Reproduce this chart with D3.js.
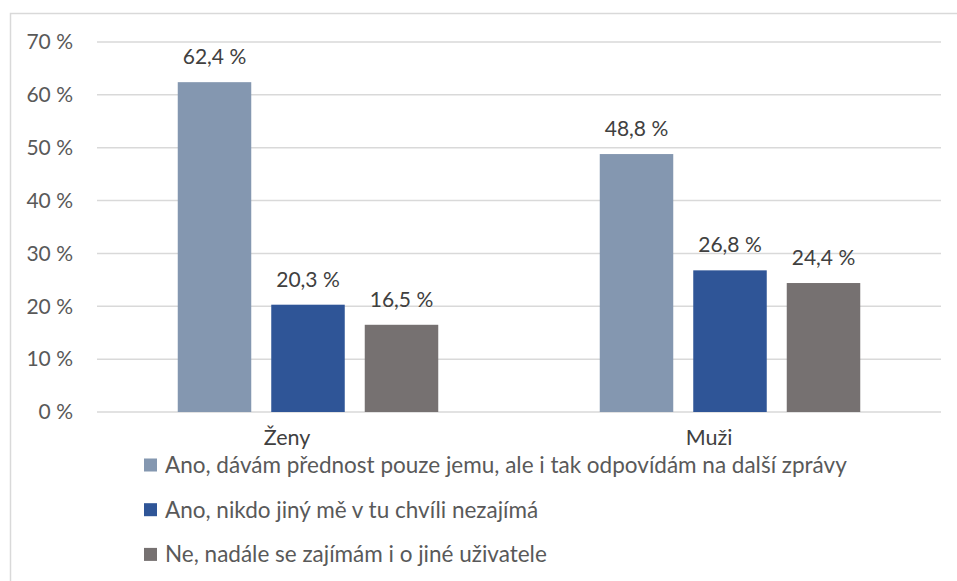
<!DOCTYPE html>
<meta charset="utf-8">
<style>
  body { margin: 0; background: #fff; }
  svg { display: block; font-family: Lato, "Noto Sans", sans-serif; }
  .grid line { stroke: #d9d9d9; stroke-width: 1.5px; }
  .tick-label { fill: #595959; font-size: 21px; }
  .value-label { fill: #404040; font-size: 21px; }
  .cat-label { fill: #404040; font-size: 21.5px; }
  .legend text { fill: #595959; font-size: 22.5px; }
</style>
<body>
<script src="https://cdn.jsdelivr.net/npm/d3@7"></script>
<script>

  // data
  var categories = ["Ženy", "Muži"];
  var series = [
    "Ano, dávám přednost pouze jemu, ale i tak odpovídám na další zprávy",
    "Ano, nikdo jiný mě v tu chvíli nezajímá",
    "Ne, nadále se zajímám i o jiné uživatele"
  ];
  var valuesZeny = [62.4, 20.3, 16.5];
  var valuesMuzi = [48.8, 26.8, 24.4];
  var yTicks = [0, 10, 20, 30, 40, 50, 60, 70];
  var colors = ["#8497b0", "#2f5597", "#767171"];

  var values = [valuesZeny, valuesMuzi];

  var width = 957, height = 581;
  var plot = {left: 97, right: 941, top: 42, bottom: 412};

  var svg = d3.select("body").append("svg")
      .attr("width", width)
      .attr("height", height);

  // outer chart frame (cropped on right/bottom in the original)
  svg.append("rect")
      .attr("x", 10.5).attr("y", 13.5)
      .attr("width", 1000).attr("height", 700)
      .attr("fill", "none")
      .attr("stroke", "#d9d9d9")
      .attr("stroke-width", 1.5);

  var y = d3.scaleLinear().domain([0, 70]).range([plot.bottom, plot.top]);

  var x0 = d3.scaleBand()
      .domain(categories)
      .range([plot.left, plot.right]);

  var groupW = 260.5;
  var x1 = d3.scaleBand()
      .domain(d3.range(series.length))
      .range([(x0.bandwidth() - groupW) / 2, (x0.bandwidth() + groupW) / 2])
      .paddingInner(20 / 93.5);

  // gridlines
  svg.append("g").attr("class", "grid")
    .selectAll("line")
    .data(yTicks)
    .enter().append("line")
      .attr("x1", plot.left).attr("x2", plot.right)
      .attr("y1", function(d) { return y(d); })
      .attr("y2", function(d) { return y(d); });

  // y tick labels
  svg.append("g")
    .selectAll("text")
    .data(yTicks)
    .enter().append("text")
      .attr("class", "tick-label")
      .attr("x", 73)
      .attr("y", function(d) { return y(d); })
      .attr("dy", "0.35em")
      .attr("text-anchor", "end")
      .text(function(d) { return d + " %"; });

  // bars
  var groups = svg.append("g")
    .selectAll("g")
    .data(categories)
    .enter().append("g")
      .attr("transform", function(d) { return "translate(" + x0(d) + ",0)"; });

  groups.selectAll("rect")
    .data(function(d, i) { return values[i].map(function(v, j) { return {v: v, s: j}; }); })
    .enter().append("rect")
      .attr("x", function(d) { return x1(d.s); })
      .attr("width", x1.bandwidth())
      .attr("y", function(d) { return y(d.v); })
      .attr("height", function(d) { return y(0) - y(d.v); })
      .attr("fill", function(d) { return colors[d.s]; });

  groups.selectAll("text.value-label")
    .data(function(d, i) { return values[i].map(function(v, j) { return {v: v, s: j}; }); })
    .enter().append("text")
      .attr("class", "value-label")
      .attr("x", function(d) { return x1(d.s) + x1.bandwidth() / 2; })
      .attr("y", function(d) { return y(d.v) - 18; })
      .attr("text-anchor", "middle")
      .text(function(d) { return d.v.toFixed(1).replace(".", ",") + " %"; });

  // category labels
  svg.append("g")
    .selectAll("text")
    .data(categories)
    .enter().append("text")
      .attr("class", "cat-label")
      .attr("x", function(d) { return x0(d) + x0.bandwidth() / 2 - 21; })
      .attr("y", 445)
      .attr("text-anchor", "middle")
      .text(function(d) { return d; });

  // legend
  var legend = svg.append("g").attr("class", "legend")
    .selectAll("g")
    .data(series)
    .enter().append("g")
      .attr("transform", function(d, i) { return "translate(144," + (465 + i * 44.7) + ")"; });

  legend.append("rect")
      .attr("x", 0).attr("y", -6.5)
      .attr("width", 13).attr("height", 13)
      .attr("fill", function(d, i) { return colors[i]; });

  legend.append("text")
      .attr("x", 21)
      .attr("dy", "0.35em")
      .text(function(d) { return d; });

</script>
</body>
